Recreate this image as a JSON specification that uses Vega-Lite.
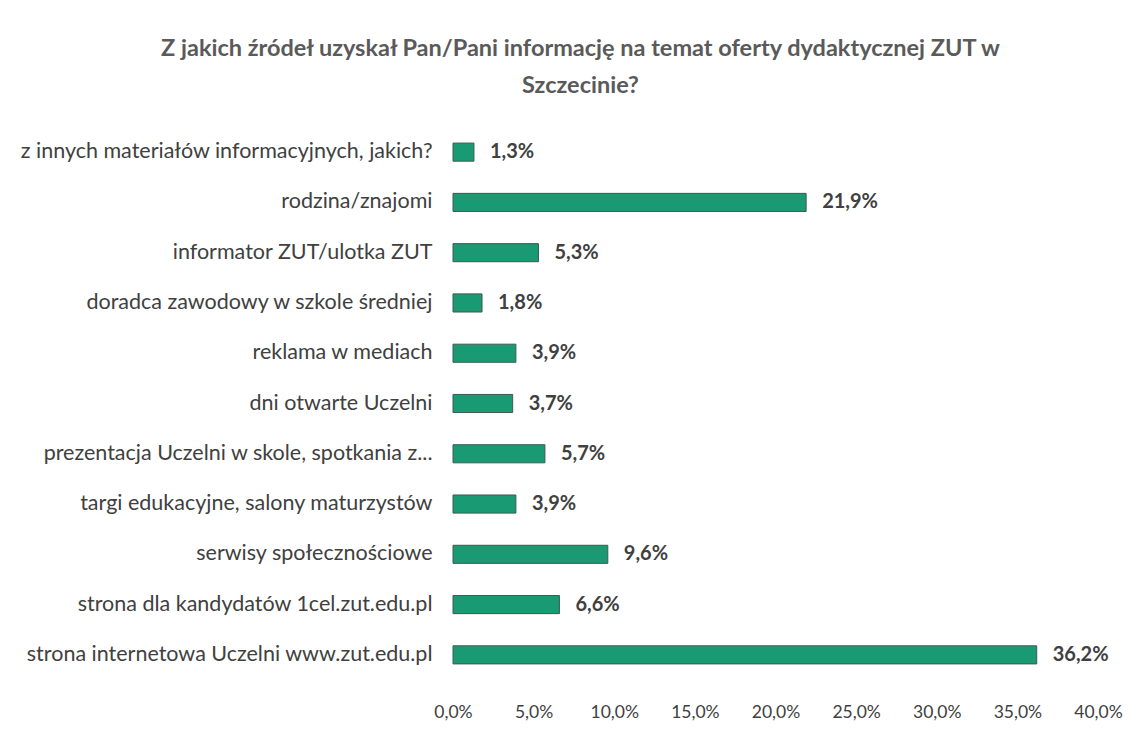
{
  "$schema": "https://vega.github.io/schema/vega-lite/v6.json",
  "width": 645,
  "height": 553,
  "autosize": "none",
  "padding": {"left": 453, "top": 127, "right": 46, "bottom": 53},
  "background": "white",
  "title": {
    "text": ["Z jakich źródeł uzyskał Pan/Pani informację na temat oferty dydaktycznej ZUT w", "Szczecinie?"],
    "font": "Lato",
    "fontSize": 23.5,
    "fontWeight": "bold",
    "color": "#5a5a5a",
    "anchor": "middle",
    "frame": "group",
    "dx": -195,
    "lineHeight": 37,
    "offset": 30
  },
  "config": {
    "view": {"stroke": null},
    "font": "Lato"
  },
  "data": {
    "values": [
      {"zrodlo": "z innych materiałów informacyjnych, jakich?", "v": 1.3, "lab": "1,3%"},
      {"zrodlo": "rodzina/znajomi", "v": 21.9, "lab": "21,9%"},
      {"zrodlo": "informator ZUT/ulotka ZUT", "v": 5.3, "lab": "5,3%"},
      {"zrodlo": "doradca zawodowy w szkole średniej", "v": 1.8, "lab": "1,8%"},
      {"zrodlo": "reklama w mediach", "v": 3.9, "lab": "3,9%"},
      {"zrodlo": "dni otwarte Uczelni", "v": 3.7, "lab": "3,7%"},
      {"zrodlo": "prezentacja Uczelni w skole, spotkania z...", "v": 5.7, "lab": "5,7%"},
      {"zrodlo": "targi edukacyjne, salony maturzystów", "v": 3.9, "lab": "3,9%"},
      {"zrodlo": "serwisy społecznościowe", "v": 9.6, "lab": "9,6%"},
      {"zrodlo": "strona dla kandydatów 1cel.zut.edu.pl", "v": 6.6, "lab": "6,6%"},
      {"zrodlo": "strona internetowa Uczelni www.zut.edu.pl", "v": 36.2, "lab": "36,2%"}
    ]
  },
  "encoding": {
    "y": {
      "field": "zrodlo",
      "type": "nominal",
      "sort": null,
      "scale": {"paddingInner": 0.64, "paddingOuter": 0.32},
      "axis": {
        "title": null,
        "domain": false,
        "ticks": false,
        "labelPadding": 21,
        "labelFontSize": 21.5,
        "labelColor": "#404040",
        "labelFont": "Lato",
        "labelLimit": 460
      }
    },
    "x": {
      "field": "v",
      "type": "quantitative",
      "scale": {"domain": [0, 40], "nice": false},
      "axis": {
        "title": null,
        "values": [0, 5, 10, 15, 20, 25, 30, 35, 40],
        "labelExpr": "replace(format(datum.value, '.1f'), '.', ',') + '%'",
        "domain": false,
        "ticks": false,
        "grid": false,
        "labelFlush": false,
        "labelPadding": 23,
        "labelFontSize": 17.5,
        "labelColor": "#404040",
        "labelFont": "Lato"
      }
    }
  },
  "layer": [
    {
      "mark": {"type": "bar", "fill": "#1a9a72", "stroke": "#3d5a50", "strokeWidth": 1}
    },
    {
      "mark": {"type": "text", "align": "left", "dx": 16, "fontSize": 20, "fontWeight": "bold", "color": "#404040", "font": "Lato"},
      "encoding": {"text": {"field": "lab"}}
    }
  ]
}
